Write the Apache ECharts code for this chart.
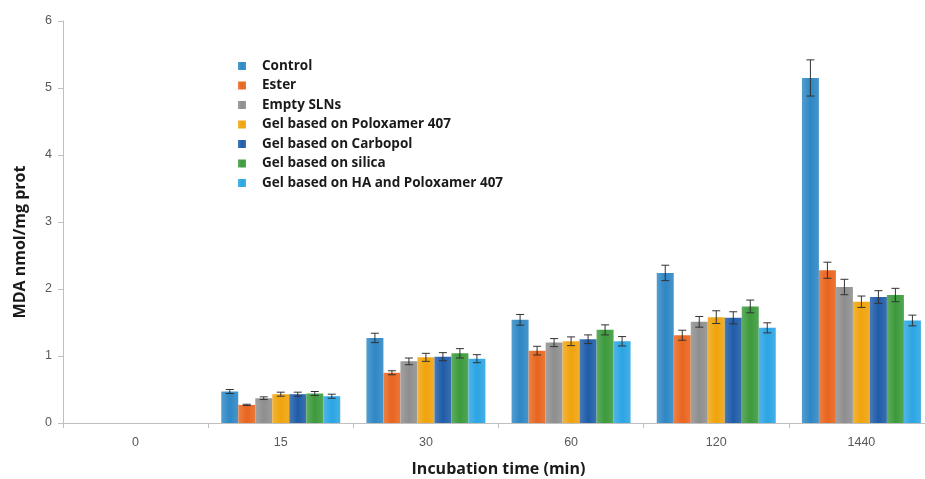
<!DOCTYPE html>
<html>
<head>
<meta charset="utf-8">
<script src="https://cdn.jsdelivr.net/npm/echarts@6/dist/echarts.min.js"></script>
<style>html,body{margin:0;padding:0;background:#fff}#c{width:925px;height:479px}</style>
</head>
<body>
<div id="c"></div>
<script>
const categories = ['0', '15', '30', '60', '120', '1440'];
const seriesNames = ['Control', 'Ester', 'Empty SLNs', 'Gel based on Poloxamer 407', 'Gel based on Carbopol', 'Gel based on silica', 'Gel based on HA and Poloxamer 407'];
const control   = [null, 0.47, 1.27, 1.54, 2.24, 5.15];
const ester     = [null, 0.27, 0.75, 1.08, 1.31, 2.28];
const emptySLN  = [null, 0.37, 0.92, 1.20, 1.51, 2.03];
const poloxamer = [null, 0.43, 0.98, 1.22, 1.58, 1.81];
const carbopol  = [null, 0.43, 0.99, 1.25, 1.57, 1.88];
const silica    = [null, 0.44, 1.04, 1.39, 1.74, 1.91];
const haPolox   = [null, 0.40, 0.96, 1.22, 1.42, 1.53];
const errControl   = [null, 0.03, 0.07, 0.08, 0.115, 0.27];
const errEster     = [null, 0.01, 0.03, 0.065, 0.075, 0.12];
const errEmptySLN  = [null, 0.02, 0.05, 0.06, 0.08, 0.115];
const errPoloxamer = [null, 0.03, 0.06, 0.065, 0.095, 0.085];
const errCarbopol  = [null, 0.03, 0.06, 0.065, 0.09, 0.095];
const errSilica    = [null, 0.03, 0.07, 0.075, 0.095, 0.10];
const errHaPolox   = [null, 0.03, 0.06, 0.07, 0.075, 0.08];
const yTicks = [0, 1, 2, 3, 4, 5, 6];

const values = [control, ester, emptySLN, poloxamer, carbopol, silica, haPolox];
const errors = [errControl, errEster, errEmptySLN, errPoloxamer, errCarbopol, errSilica, errHaPolox];
const colors = ['#2E87C4', '#E8651E', '#8E8E8E', '#F0A30C', '#1F5CA8', '#3C9A3C', '#2BA5E3'];
const BAR_W = 17;

function shade(hex, f) {
  const n = parseInt(hex.slice(1), 16);
  let r = (n >> 16) & 255, g = (n >> 8) & 255, b = n & 255;
  r = Math.round(r + (255 - r) * f); g = Math.round(g + (255 - g) * f); b = Math.round(b + (255 - b) * f);
  return 'rgb(' + r + ',' + g + ',' + b + ')';
}

const series = [];
seriesNames.forEach((name, i) => {
  series.push({
    name: name,
    type: 'bar',
    barWidth: BAR_W,
    barGap: '0%',
    data: values[i],
    itemStyle: {
      color: {
        type: 'linear', x: 0, y: 0, x2: 1, y2: 0,
        colorStops: [
          { offset: 0, color: shade(colors[i], 0.18) },
          { offset: 0.5, color: colors[i] },
          { offset: 1, color: shade(colors[i], 0.12) }
        ]
      }
    }
  });
});
seriesNames.forEach((name, i) => {
  const data = categories.map((c, k) => values[i][k] == null ? null : [k, values[i][k], errors[i][k]]).filter(d => d);
  series.push({
    type: 'custom',
    silent: true,
    z: 5,
    data: data,
    renderItem: function (params, api) {
      const k = api.value(0), v = api.value(1), e = api.value(2);
      const center = api.coord([k, v]);
      const x = center[0] + (i - 3) * BAR_W;
      const hi = api.coord([k, v + e])[1];
      const lo = api.coord([k, v - e])[1];
      const cap = 4;
      const st = { stroke: '#333', lineWidth: 1 };
      return {
        type: 'group',
        children: [
          { type: 'line', shape: { x1: x, y1: hi, x2: x, y2: lo }, style: st },
          { type: 'line', shape: { x1: x - cap, y1: hi, x2: x + cap, y2: hi }, style: st },
          { type: 'line', shape: { x1: x - cap, y1: lo, x2: x + cap, y2: lo }, style: st }
        ]
      };
    }
  });
});

const chart = echarts.init(document.getElementById('c'));
chart.setOption({
  animation: false,
  backgroundColor: '#fff',
  grid: { left: 63, top: 21, bottom: 56, width: 871, containLabel: false, outerBoundsMode: 'none' },
  legend: {
    data: seriesNames,
    orient: 'vertical',
    left: 233,
    top: 54,
    itemWidth: 8,
    itemHeight: 8,
    itemGap: 5.5,
    icon: 'rect',
    textStyle: { fontFamily: 'Open Sans', fontWeight: 'bold', fontSize: 13.5, color: '#1a1a1a', padding: [0, 0, 0, 11] }
  },
  xAxis: {
    type: 'category',
    data: categories,
    name: 'Incubation time (min)',
    nameLocation: 'middle',
    nameGap: 38,
    nameTextStyle: { fontFamily: 'Open Sans', fontWeight: 'bold', fontSize: 16, color: '#1a1a1a' },
    axisLine: { lineStyle: { color: '#BFBFBF' } },
    axisTick: { show: true, length: 5, lineStyle: { color: '#BFBFBF' } },
    axisLabel: { fontFamily: 'Liberation Sans', fontSize: 12.5, color: '#595959', margin: 13 }
  },
  yAxis: {
    type: 'value',
    min: 0,
    max: 6,
    interval: 1,
    name: 'MDA nmol/mg prot',
    nameLocation: 'middle',
    nameGap: 35,
    nameTextStyle: { fontFamily: 'Open Sans', fontWeight: 'bold', fontSize: 16, color: '#1a1a1a', padding: [0, 40, 0, 0] },
    axisLine: { show: true, lineStyle: { color: '#BFBFBF' } },
    axisTick: { show: true, length: 5, lineStyle: { color: '#BFBFBF' } },
    splitLine: { show: false },
    axisLabel: { fontFamily: 'Liberation Sans', fontSize: 12.5, color: '#595959', margin: 11,
      formatter: v => yTicks.indexOf(v) >= 0 ? String(v) : '' }
  },
  series: series
});
</script>
</body>
</html>
